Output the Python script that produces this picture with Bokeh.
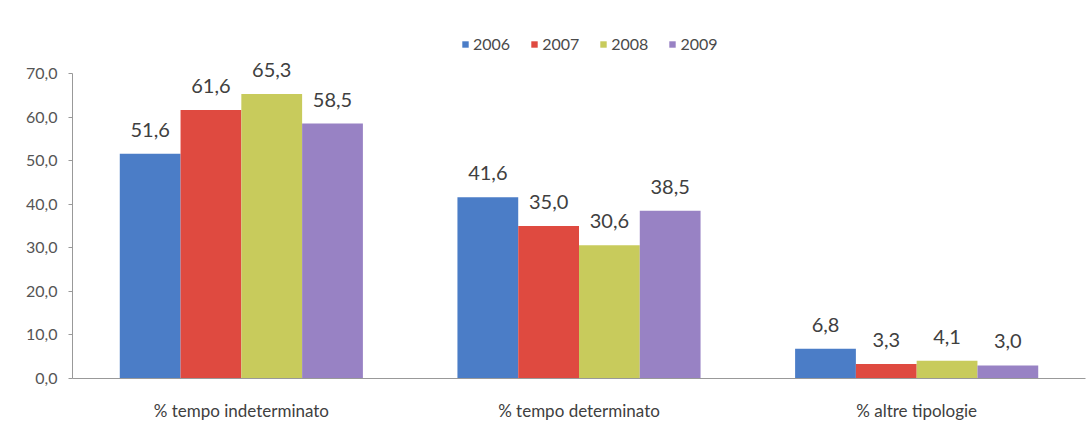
from bokeh.plotting import figure
from bokeh.models import ColumnDataSource, FactorRange, Range1d, LabelSet, Legend, LegendItem, CustomJSTickFormatter
from bokeh.core.properties import value
from bokeh.transform import dodge
from bokeh.embed import file_html
from bokeh.resources import INLINE

categories = ["% tempo indeterminato", "% tempo determinato", "% altre tipologie"]
years = ["2006", "2007", "2008", "2009"]
v2006 = [51.6, 41.6, 6.8]
v2007 = [61.6, 35.0, 3.3]
v2008 = [65.3, 30.6, 4.1]
v2009 = [58.5, 38.5, 3.0]
series = [v2006, v2007, v2008, v2009]
yticks = [0, 10, 20, 30, 40, 50, 60, 70]
colors = ["#4b7dc7", "#df4a40", "#c8cb5c", "#9882c4"]
offsets = [-0.27, -0.09, 0.09, 0.27]

FONT = "Lato"

p = figure(width=1090, height=426, x_range=FactorRange(*categories, range_padding=0),
           y_range=Range1d(0, 81), output_backend="svg", toolbar_location=None,
           min_border_left=72, min_border_right=5, min_border_top=25, min_border_bottom=48)
p.outline_line_color = None
p.xgrid.grid_line_color = None
p.ygrid.grid_line_color = None

items = []
for yr, vals, col, off in zip(years, series, colors, offsets):
    src = ColumnDataSource(dict(cat=categories, val=vals,
                                lab=[("%.1f" % v).replace(".", ",") for v in vals]))
    r = p.vbar(x=dodge("cat", off, range=p.x_range), top="val", width=0.18, source=src,
               fill_color=col, line_color=None)
    items.append(LegendItem(label=yr, renderers=[r]))
    p.add_layout(LabelSet(x=dodge("cat", off, range=p.x_range), y="val", text="lab", source=src,
                          y_offset=17, text_align="center", text_baseline="bottom",
                          text_font=value(FONT), text_font_size="20px", text_color="#404040"))

legend = Legend(items=items, orientation="horizontal", location=(389, 325),
                label_text_font=FONT, label_text_font_size="16px", label_text_color="#4a4a4a",
                glyph_width=8, glyph_height=8, spacing=20, label_standoff=4,
                padding=4, margin=0, border_line_color=None, background_fill_alpha=0)
p.add_layout(legend)

p.yaxis.ticker = yticks
p.yaxis.bounds = (yticks[0], yticks[-1])
p.yaxis.formatter = CustomJSTickFormatter(code="return tick.toFixed(1).replace('.', ',');")
p.yaxis.major_label_text_font = FONT
p.yaxis.major_label_text_font_size = "16px"
p.yaxis.major_label_text_color = "#555555"
p.yaxis.axis_line_color = "#999999"
p.yaxis.major_tick_line_color = "#999999"
p.yaxis.major_tick_in = 0
p.yaxis.major_tick_out = 4
p.yaxis.minor_tick_line_color = None
p.yaxis.major_label_standoff = 11

p.xaxis.major_label_text_font = FONT
p.xaxis.major_label_text_font_size = "17px"
p.xaxis.major_label_text_color = "#404040"
p.xaxis.axis_line_color = "#999999"
p.xaxis.major_tick_line_color = None
p.xaxis.major_label_standoff = 15

open("out.html", "w").write(file_html(p, INLINE))
